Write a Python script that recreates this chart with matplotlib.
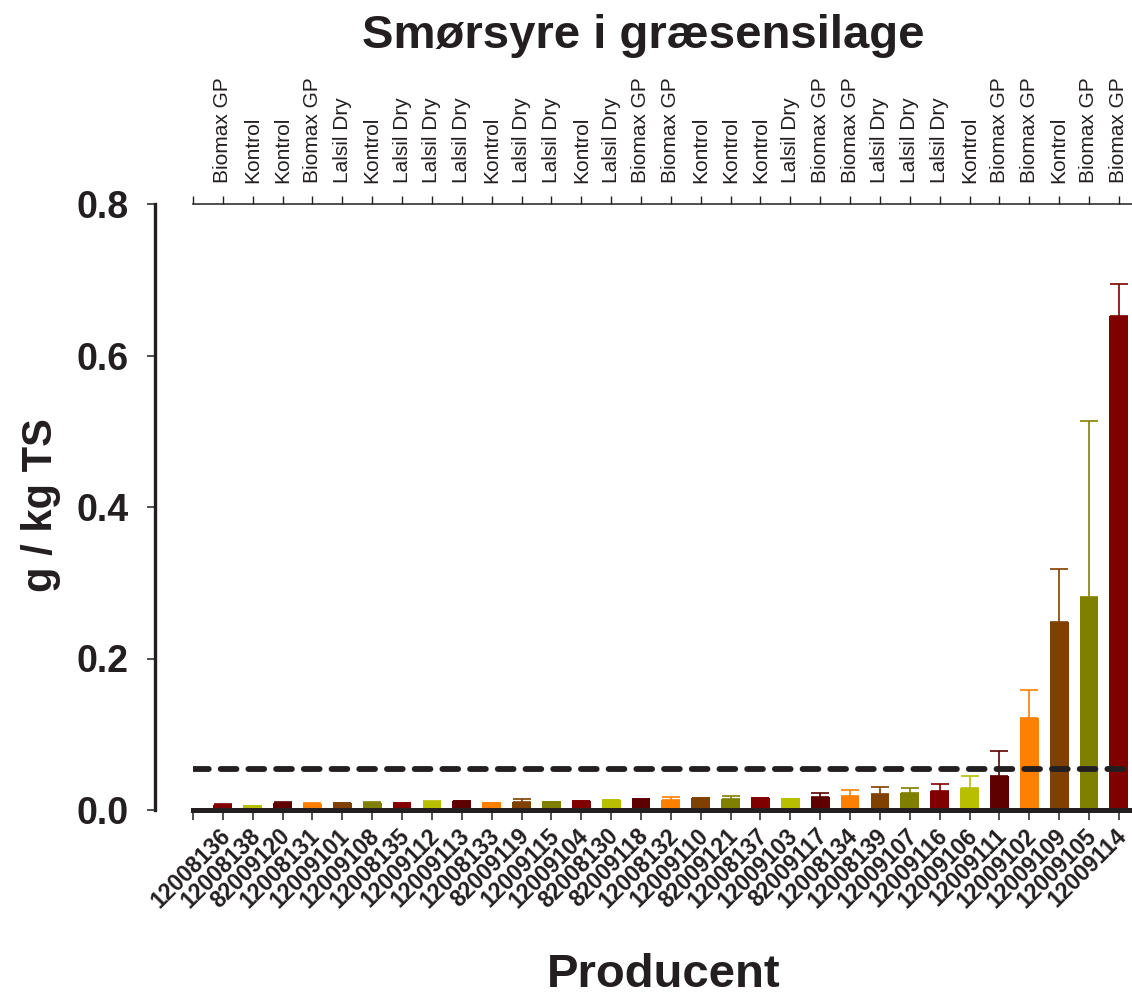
import matplotlib

matplotlib.use("Agg")
import matplotlib.pyplot as plt
import matplotlib.transforms as mtransforms
import numpy as np

plt.rcParams["font.family"] = ["Liberation Sans", "DejaVu Sans"]

# producer id (bottom axis), additive (top axis), mean and upper error in g / kg TS
producers = [
    "12008136", "12008138", "82009120", "12008131", "12009101", "12009108",
    "12008135", "12009112", "12009113", "12008133", "82009119", "12009115",
    "12009104", "82008130", "82009118", "12008132", "12009110", "82009121",
    "12008137", "12009103", "82009117", "12008134", "12008139", "12009107",
    "12009116", "12009106", "12009111", "12009102", "12009109", "12009105",
    "12009114",
]
additives = [
    "Biomax GP", "Kontrol", "Kontrol", "Biomax GP", "Lalsil Dry", "Kontrol",
    "Lalsil Dry", "Lalsil Dry", "Lalsil Dry", "Kontrol", "Lalsil Dry", "Lalsil Dry",
    "Kontrol", "Lalsil Dry", "Biomax GP", "Biomax GP", "Kontrol", "Kontrol",
    "Kontrol", "Lalsil Dry", "Biomax GP", "Biomax GP", "Lalsil Dry", "Lalsil Dry",
    "Lalsil Dry", "Kontrol", "Biomax GP", "Biomax GP", "Kontrol", "Biomax GP",
    "Biomax GP",
]
values = [
    0.0070, 0.0070, 0.0097, 0.0084, 0.0092, 0.0097, 0.0092, 0.0110, 0.0114,
    0.0110, 0.0110, 0.0120, 0.0120, 0.0132, 0.0145, 0.0132, 0.0154, 0.0141,
    0.0154, 0.0163, 0.0172, 0.0185, 0.0207, 0.0229, 0.0246, 0.0290, 0.0453,
    0.1210, 0.2480, 0.2810, 0.6526,
]
errors = [
    0.0005, 0.0000, 0.0010, 0.0005, 0.0005, 0.0005, 0.0005, 0.0003, 0.0005,
    0.0000, 0.0040, 0.0000, 0.0003, 0.0003, 0.0005, 0.0035, 0.0005, 0.0040,
    0.0003, 0.0000, 0.0050, 0.0083, 0.0093, 0.0060, 0.0102, 0.0163, 0.0322,
    0.0380, 0.0700, 0.2325, 0.0414,
]
limit = 0.054

palette = ["#800000", "#b8bf00", "#5e0000", "#ff8000", "#804000", "#808000"]
colors = [palette[i % len(palette)] for i in range(len(values))]
ink = "#231f20"

W, H = 1132, 998
fig = plt.figure(figsize=(W / 100, H / 100), dpi=100)
ax = fig.add_axes([193 / W, 1 - 810 / H, 939 / W, 606 / H])

x = np.arange(1, len(values) + 1)
ax.bar(x, values, 0.63, color=colors, zorder=3)
for xi, v, e, c in zip(x, values, errors, colors):
    if e > 0:
        ax.errorbar(xi, v, yerr=[[0], [e]], fmt="none", ecolor=c, elinewidth=1.2,
                    capsize=6.5, capthick=1.2, zorder=2)

ax.axhline(limit, color=ink, lw=4.2, linestyle=(0, (2.7, 2.05)),
           dash_capstyle="round", zorder=4)

ax.set_xlim(0, 31.44)
ax.set_ylim(0, 0.8)

for s in ["top", "right"]:
    ax.spines[s].set_visible(False)
ax.spines["left"].set_position(("outward", 27.4))
ax.spines["left"].set_linewidth(2.4)
ax.spines["left"].set_color(ink)
ax.spines["bottom"].set_linewidth(3.6)
ax.spines["bottom"].set_color(ink)
ax.spines["bottom"].set_zorder(5)

ax.set_yticks([0, 0.2, 0.4, 0.6, 0.8])
ax.set_yticklabels(["0.0", "0.2", "0.4", "0.6", "0.8"], fontsize=27, fontweight="bold",
                   color=ink)
ax.tick_params(axis="y", length=6, width=1.1, pad=13, colors=ink)

ax.set_xticks(np.concatenate([[0], x]))
ax.set_xticklabels([""] + producers, rotation=45, ha="right", va="center",
                   rotation_mode="anchor", fontsize=16.5, fontweight="bold", color=ink)
ax.tick_params(axis="x", length=7, width=1.1, pad=9, colors=ink)
shift = mtransforms.ScaledTranslation(4 / 100, 0, fig.dpi_scale_trans)
for lab in ax.get_xticklabels():
    lab.set_transform(lab.get_transform() + shift)

ax2 = ax.twiny()
ax2.set_xlim(ax.get_xlim())
for s in ["left", "right", "bottom"]:
    ax2.spines[s].set_visible(False)
ax2.spines["top"].set_linewidth(1.1)
ax2.spines["top"].set_color(ink)
ax2.set_xticks(np.concatenate([[0], x]))
ax2.set_xticklabels([""] + additives, rotation=90, fontsize=15, color=ink)
ax2.tick_params(axis="x", length=6, width=1.0, pad=9, colors=ink)

fig.text(643.5 / W, 1 - 36 / H, "Smørsyre i græsensilage", ha="center", va="center",
         fontsize=34, fontweight="bold", color=ink)
fig.text(664 / W, 1 - 975 / H, "Producent", ha="center", va="center",
         fontsize=34, fontweight="bold", color=ink)
fig.text(41 / W, 1 - 505 / H, "g / kg TS", ha="center", va="center", rotation=90,
         fontsize=30, fontweight="bold", color=ink)

fig.savefig("out.png", dpi=100)
